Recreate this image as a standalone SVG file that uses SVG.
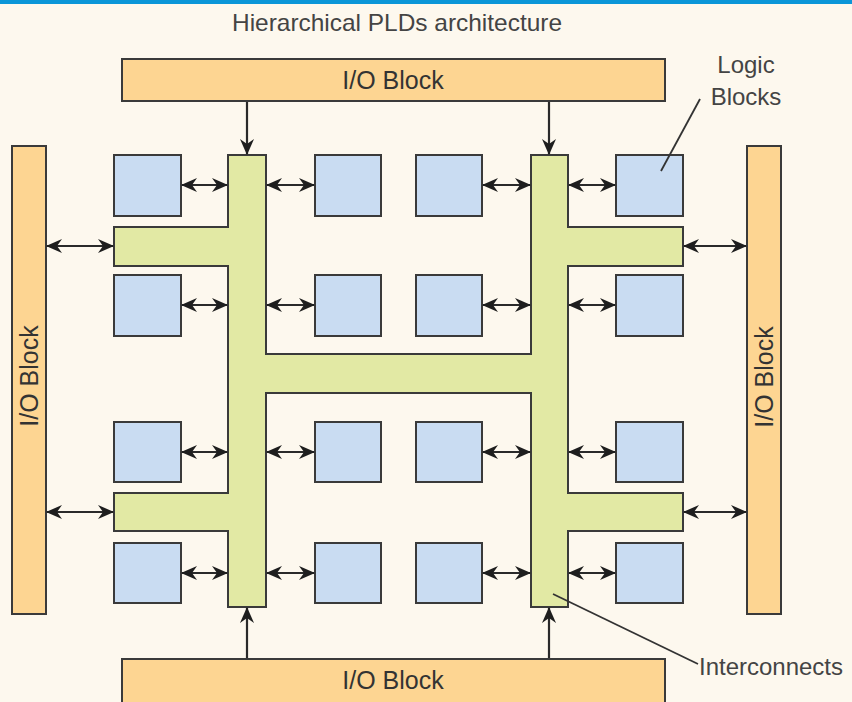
<svg xmlns="http://www.w3.org/2000/svg" width="852" height="702" viewBox="0 0 852 702">
  <style>
    .io { fill: #fdd592; stroke: #3a3a3a; stroke-width: 2; }
    .lb { fill: #c9dcf2; stroke: #3a3a3a; stroke-width: 2; }
    .ic { fill: #e2e9a4; stroke: #3a3a3a; stroke-width: 2; stroke-linejoin: miter; }
    .lbl { font-family: "Liberation Sans", Arial, sans-serif; fill: #333; }
    .big { font-size: 25px; text-anchor: middle; }
    .note { font-size: 24px; fill: #444; }
    .wire { stroke: #2a2a2a; stroke-width: 2.2; fill: none; }
    .dbl { marker-start: url(#head); marker-end: url(#head); }
    .one { marker-end: url(#head); }
    .lead { stroke: #333; stroke-width: 1.8; fill: none; }
  </style>
  <defs>
    <marker id="head" viewBox="0 0 16 14" markerWidth="16" markerHeight="14" refX="15" refY="7" orient="auto-start-reverse" markerUnits="userSpaceOnUse">
      <path d="M0,0 L16,7 L0,14 L5,7 Z" fill="#1e1e1e"/>
    </marker>
  </defs>

  <!-- background and top rule -->
  <rect x="0" y="0" width="852" height="702" fill="#fdf8ee"/>
  <rect x="0" y="0" width="852" height="4" fill="#0a96d8"/>

  <text class="lbl note" x="397" y="31" text-anchor="middle" textLength="330" lengthAdjust="spacingAndGlyphs">Hierarchical PLDs architecture</text>

  <!-- I/O blocks -->
  <g id="io-top">
    <rect class="io" x="122" y="59" width="543" height="42"/>
    <text class="lbl big" x="393" y="89">I/O Block</text>
  </g>
  <g id="io-bottom">
    <rect class="io" x="122" y="659" width="543" height="50"/>
    <text class="lbl big" x="393" y="689">I/O Block</text>
  </g>
  <g id="io-left">
    <rect class="io" x="12" y="146" width="34" height="468"/>
    <text class="lbl big" transform="translate(38,376) rotate(-90)">I/O Block</text>
  </g>
  <g id="io-right">
    <rect class="io" x="747" y="146" width="34" height="468"/>
    <text class="lbl big" transform="translate(773,377) rotate(-90)">I/O Block</text>
  </g>

  <!-- interconnect fabric -->
  <g id="interconnect">
    <path class="ic" d="M228,155 H266 V354 H531 V155 H568 V227 H683 V266 H568 V493 H683 V531 H568 V607 H531 V393 H266 V607 H228 V531 H114 V493 H228 V266 H114 V227 H228 Z"/>
  </g>

  <!-- logic blocks -->
  <g id="lb-1-1"><rect class="lb" x="114" y="155" width="67" height="61"/></g>
  <g id="lb-1-2"><rect class="lb" x="315" y="155" width="66" height="61"/></g>
  <g id="lb-1-3"><rect class="lb" x="416" y="155" width="66" height="61"/></g>
  <g id="lb-1-4"><rect class="lb" x="616" y="155" width="67" height="61"/></g>
  <g id="lb-2-1"><rect class="lb" x="114" y="275" width="67" height="61"/></g>
  <g id="lb-2-2"><rect class="lb" x="315" y="275" width="66" height="61"/></g>
  <g id="lb-2-3"><rect class="lb" x="416" y="275" width="66" height="61"/></g>
  <g id="lb-2-4"><rect class="lb" x="616" y="275" width="67" height="61"/></g>
  <g id="lb-3-1"><rect class="lb" x="114" y="422" width="67" height="60"/></g>
  <g id="lb-3-2"><rect class="lb" x="315" y="422" width="66" height="60"/></g>
  <g id="lb-3-3"><rect class="lb" x="416" y="422" width="66" height="60"/></g>
  <g id="lb-3-4"><rect class="lb" x="616" y="422" width="67" height="60"/></g>
  <g id="lb-4-1"><rect class="lb" x="114" y="543" width="67" height="60"/></g>
  <g id="lb-4-2"><rect class="lb" x="315" y="543" width="66" height="60"/></g>
  <g id="lb-4-3"><rect class="lb" x="416" y="543" width="66" height="60"/></g>
  <g id="lb-4-4"><rect class="lb" x="616" y="543" width="67" height="60"/></g>

  <!-- connectors -->
  <g id="connectors">
    <!-- vertical feeds from top and bottom I/O -->
    <line class="wire one" x1="247" y1="102" x2="247" y2="154"/>
    <line class="wire one" x1="549" y1="102" x2="549" y2="154"/>
    <line class="wire one" x1="247" y1="658" x2="247" y2="608"/>
    <line class="wire one" x1="549" y1="658" x2="549" y2="608"/>

    <!-- side I/O to arms -->
    <line class="wire dbl" x1="47" y1="246" x2="113" y2="246"/>
    <line class="wire dbl" x1="47" y1="512" x2="113" y2="512"/>
    <line class="wire dbl" x1="684" y1="246" x2="746" y2="246"/>
    <line class="wire dbl" x1="684" y1="512" x2="746" y2="512"/>

    <!-- logic blocks to fabric, row 1 -->
    <line class="wire dbl" x1="182" y1="185" x2="227" y2="185"/>
    <line class="wire dbl" x1="267" y1="185" x2="314" y2="185"/>
    <line class="wire dbl" x1="483" y1="185" x2="530" y2="185"/>
    <line class="wire dbl" x1="569" y1="185" x2="615" y2="185"/>
    <!-- row 2 -->
    <line class="wire dbl" x1="182" y1="305" x2="227" y2="305"/>
    <line class="wire dbl" x1="267" y1="305" x2="314" y2="305"/>
    <line class="wire dbl" x1="483" y1="305" x2="530" y2="305"/>
    <line class="wire dbl" x1="569" y1="305" x2="615" y2="305"/>
    <!-- row 3 -->
    <line class="wire dbl" x1="182" y1="452" x2="227" y2="452"/>
    <line class="wire dbl" x1="267" y1="452" x2="314" y2="452"/>
    <line class="wire dbl" x1="483" y1="452" x2="530" y2="452"/>
    <line class="wire dbl" x1="569" y1="452" x2="615" y2="452"/>
    <!-- row 4 -->
    <line class="wire dbl" x1="182" y1="573" x2="227" y2="573"/>
    <line class="wire dbl" x1="267" y1="573" x2="314" y2="573"/>
    <line class="wire dbl" x1="483" y1="573" x2="530" y2="573"/>
    <line class="wire dbl" x1="569" y1="573" x2="615" y2="573"/>
  </g>

  <!-- callouts -->
  <g id="callouts">
    <path class="lead" d="M700,99 L661,171"/>
    <text class="lbl note" x="746" y="73" text-anchor="middle">Logic</text>
    <text class="lbl note" x="746" y="105" text-anchor="middle">Blocks</text>
    <path class="lead" d="M553,594 L698,664"/>
    <text class="lbl note" x="699" y="675" textLength="144" lengthAdjust="spacingAndGlyphs">Interconnects</text>
  </g>
</svg>
